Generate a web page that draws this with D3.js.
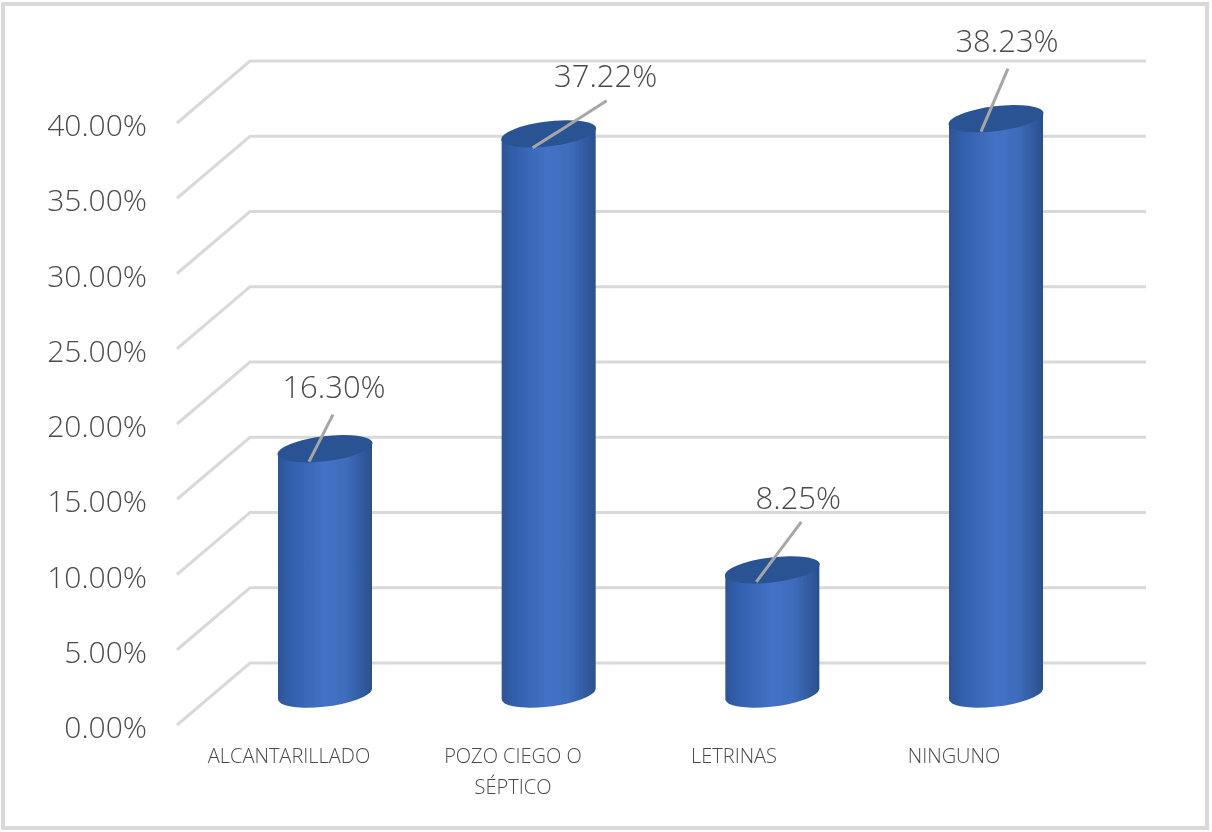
<!DOCTYPE html>
<html>
<head>
<meta charset="utf-8">
<script src="https://cdn.jsdelivr.net/npm/d3@7"></script>
<style>
    html, body { margin: 0; padding: 0; background: #fff; }
    svg { display: block; }
    text { font-family: "Open Sans", sans-serif; font-weight: 300; fill: #4a4a4a; }
</style>
</head>
<body>
<div id="chart"></div>
<script>
const categories = ["ALCANTARILLADO", "POZO CIEGO O|SÉPTICO", "LETRINAS", "NINGUNO"];
const values = [16.30, 37.22, 8.25, 38.23];
const yTicks = [0, 5, 10, 15, 20, 25, 30, 35, 40];

const width = 1212, height = 832;
const depthX = 73, depthY = 62;      // offset between front and back wall
const rx = 47, ry = 12.5, tilt = -7; // cylinder cap

// leader line and label placement, relative to the top of each bar
const leaders = [
    { x1: -16, y1: 13, x2: 8, y2: -34, lx: 9, ly: -51 },
    { x1: -16, y1: 14, x2: 58, y2: -33, lx: 57, ly: -47 },
    { x1: -16, y1: 12, x2: 29, y2: -48, lx: 26, ly: -61 },
    { x1: -15, y1: 13, x2: 12, y2: -50, lx: 11, ly: -67 }
];

const svg = d3.select("#chart").append("svg")
    .attr("width", width)
    .attr("height", height);

const defs = svg.append("defs");

const side = defs.append("linearGradient").attr("id", "cyl");
[[0, "#2f5494"], [0.15, "#3360ae"], [0.5, "#4472c6"], [0.72, "#3f6cbc"], [0.9, "#315a9f"], [1, "#2c4f8c"]]
    .forEach(s => side.append("stop").attr("offset", s[0]).attr("stop-color", s[1]));

defs.append("filter").attr("id", "soft")
    .append("feGaussianBlur").attr("stdDeviation", 0.6);

svg.append("rect")
    .attr("x", 3).attr("y", 4)
    .attr("width", 1204).attr("height", 824)
    .attr("fill", "#fff")
    .attr("stroke", "#d9d9d9")
    .attr("stroke-width", 4);

const g = svg.append("g").attr("filter", "url(#soft)");

// y scale at the back wall, bars sit half way between front and back
const y = d3.scaleLinear().domain([0, 40]).range([663, 61]);
const x = d3.scalePoint().domain(categories).range([325, 996]);

const grid = g.append("g");
yTicks.forEach(t => {
    grid.append("path")
        .attr("d", d3.line()([[250 - depthX, y(t) + depthY], [250, y(t)], [1146, y(t)]]))
        .attr("fill", "none")
        .attr("stroke", "#d9d9d9")
        .attr("stroke-width", 3);
});

// y axis labels
g.append("g").selectAll("text")
    .data(yTicks)
    .enter()
    .append("text")
    .attr("x", 147)
    .attr("y", d => y(d) + depthY + 13)
    .attr("text-anchor", "end")
    .attr("font-size", 30)
    .text(d => d.toFixed(2) + "%");

// cylinders
const bars = g.append("g").selectAll("g")
    .data(values)
    .enter()
    .append("g")
    .attr("transform", (d, i) => "translate(" + x(categories[i]) + "," + (y(d) + depthY / 2) + ")");

bars.append("path")
    .attr("d", d => {
        const h = y(0) - y(d);
        return "M" + (-rx) + ",5 L" + (-rx) + "," + (h + 5)
            + " A" + rx + "," + ry + " " + tilt + " 0 0 " + rx + "," + (h - 5)
            + " L" + rx + ",-5 Z";
    })
    .attr("fill", "url(#cyl)");

bars.append("ellipse")
    .attr("rx", rx + 0.8)
    .attr("ry", ry)
    .attr("transform", "rotate(" + tilt + ")")
    .attr("fill", "#2b5394");

bars.append("line")
    .attr("x1", (d, i) => leaders[i].x1)
    .attr("y1", (d, i) => leaders[i].y1)
    .attr("x2", (d, i) => leaders[i].x2)
    .attr("y2", (d, i) => leaders[i].y2)
    .attr("stroke", "#a6a6a6")
    .attr("stroke-width", 3);

bars.append("text")
    .attr("x", (d, i) => leaders[i].lx)
    .attr("y", (d, i) => leaders[i].ly)
    .attr("text-anchor", "middle")
    .attr("font-size", 31)
    .text(d => d.toFixed(2) + "%");

// category labels
const catX = [289, 513, 734, 954];
categories.forEach((c, i) => {
    c.split("|").forEach((line, k) => {
        g.append("text")
            .attr("x", catX[i])
            .attr("y", 763 + k * 31)
            .attr("text-anchor", "middle")
            .attr("font-size", 20)
            .text(line);
    });
});
</script>
</body>
</html>
